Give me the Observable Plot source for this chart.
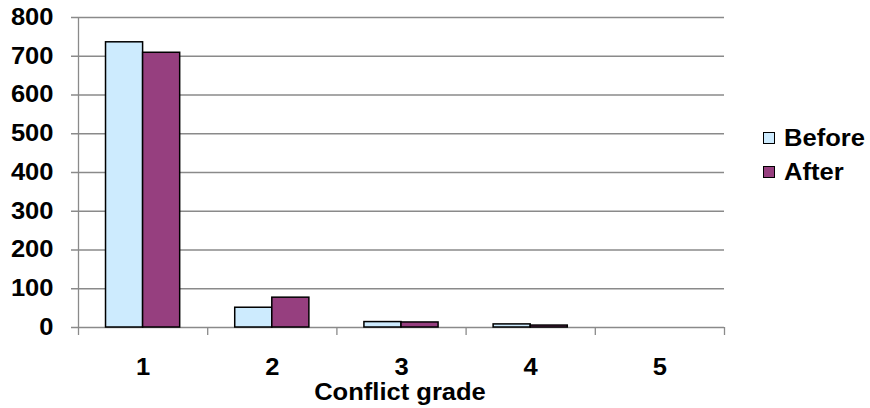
<!DOCTYPE html>
<html>
<head>
<meta charset="utf-8">
<script src="https://cdn.jsdelivr.net/npm/d3@7"></script>
<script src="https://cdn.jsdelivr.net/npm/@observablehq/plot@0.6"></script>
<style>
  body { margin: 0; background: #fff; font-family: "Liberation Sans", Arial, sans-serif; }
  #chart { position: relative; width: 870px; height: 408px; }
  .legend { position: absolute; left: 763px; top: 121px; font-weight: bold; font-size: 23px; color: #000; }
  .item { display: flex; align-items: center; height: 34px; }
  .swatch { width: 10px; height: 10px; border: 1px solid #000; margin-right: 9px; flex: none; }
  .label { display: inline-block; transform: scaleX(1.11); transform-origin: left center; }
</style>
</head>
<body>
<div id="chart"></div>
<script>
// Conflict grades on the x axis
const grades = [1, 2, 3, 4, 5];
const seriesNames = ["Before", "After"];
// Counts per grade
const before = [736, 51, 14, 8, 0];
const after = [709, 77, 13, 5, 0];
const yTicks = [0, 100, 200, 300, 400, 500, 600, 700, 800];
const seriesColors = ["#cdebfe", "#963f7f"];

// Fraction of each category slot covered by one bar
const barWidth = 0.287;

const rows = grades.flatMap((g, i) => [
  {grade: g, series: "Before", value: before[i], x1: g - barWidth, x2: g},
  {grade: g, series: "After", value: after[i], x1: g, x2: g + barWidth}
]);

// Category boundaries where the x-axis tick marks sit
const boundaries = [grades[0] - 0.5, ...grades.map(g => g + 0.5)];

const gridColor = "#8a8a8a";

const chart = Plot.plot({
  width: 870,
  height: 408,
  marginLeft: 78,
  marginRight: 146,
  marginTop: 17,
  marginBottom: 81,
  style: {fontFamily: "Liberation Sans, Arial, sans-serif", fontSize: "23px", fontWeight: "bold", color: "#000", background: "#fff"},
  x: {domain: [boundaries[0], boundaries[boundaries.length - 1]], axis: null},
  y: {domain: [0, 800], axis: null},
  color: {domain: seriesNames, range: seriesColors},
  marks: [
    // horizontal gridlines, extended left as tick marks
    Plot.ruleY(yTicks, {stroke: gridColor, strokeWidth: 1.3, insetLeft: -7}),
    // vertical axis line
    Plot.ruleX([boundaries[0]], {y1: 0, y2: 800, stroke: gridColor, strokeWidth: 1.3}),
    // tick marks between categories
    Plot.ruleX(boundaries, {y1: 0, y2: 0, insetBottom: -8, stroke: gridColor, strokeWidth: 1.3}),
    Plot.axisY(yTicks, {tickSize: 0, tickPadding: 25, label: null, fontSize: 23}),
    Plot.axisX(grades, {tickSize: 0, tickPadding: 31, label: null, tickFormat: d => String(d), fontSize: 23}),
    Plot.rectY(rows.filter(d => d.value > 0), {
      x1: "x1", x2: "x2", y: "value", fill: "series",
      stroke: "#000", strokeWidth: 1.5
    }),
    Plot.text(["Conflict grade"], {frameAnchor: "bottom", lineAnchor: "middle", dy: 65, dx: -1.5, fontSize: 23, fontWeight: "bold"})
  ]
});

const container = document.getElementById("chart");
container.appendChild(chart);

// Slightly widened lettering
d3.select(chart).selectAll("text").each(function () {
  const len = this.getComputedTextLength();
  if (len > 0) {
    this.setAttribute("textLength", (len * 1.11).toFixed(2));
    this.setAttribute("lengthAdjust", "spacingAndGlyphs");
  }
});

const legend = document.createElement("div");
legend.className = "legend";
seriesNames.forEach((name, i) => {
  const item = document.createElement("div");
  item.className = "item";
  const sw = document.createElement("span");
  sw.className = "swatch";
  sw.style.background = seriesColors[i];
  const label = document.createElement("span");
  label.className = "label";
  label.textContent = name;
  item.appendChild(sw);
  item.appendChild(label);
  legend.appendChild(item);
});
container.appendChild(legend);
</script>
</body>
</html>
